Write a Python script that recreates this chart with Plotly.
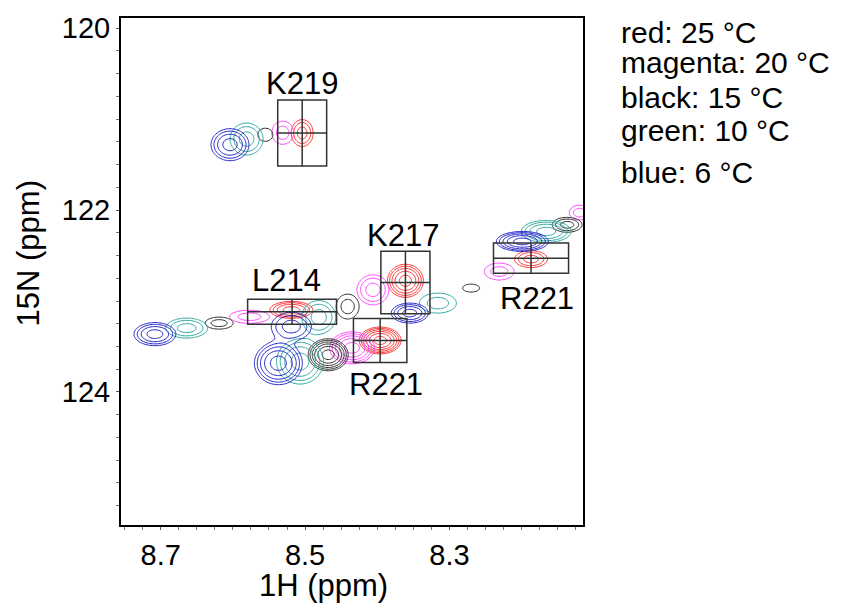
import numpy as np
import plotly.graph_objects as go

# ---------------- data ----------------
# Peaks per temperature: 1H shift (ppm), 15N shift (ppm), half-width 1H, half-width 15N, contour levels
red_h = [8.504, 8.519, 8.361, 8.396, 8.187]
red_n = [121.153, 123.097, 122.778, 123.434, 122.539]
red_wh = [0.0152, 0.0297, 0.0249, 0.0290, 0.0228]
red_wn = [0.148, 0.093, 0.182, 0.148, 0.093]
red_lv = [3, 4, 5, 6, 3]

magenta_h = [8.531, 8.577, 8.406, 8.435, 8.231, 8.120]
magenta_n = [121.150, 123.173, 122.877, 123.515, 122.676, 122.028]
magenta_wh = [0.0152, 0.0277, 0.0221, 0.0310, 0.0207, 0.0140]
magenta_wn = [0.127, 0.072, 0.165, 0.176, 0.093, 0.082]
magenta_lv = [2, 2, 3, 5, 2, 2]

black_h = [8.555, 8.619, 8.441, 8.468, 8.270, 8.137]
black_n = [121.172, 123.243, 123.061, 123.591, 122.858, 122.162]
black_wh = [0.0104, 0.0194, 0.0159, 0.0277, 0.0118, 0.0207]
black_wn = [0.072, 0.066, 0.137, 0.176, 0.044, 0.082]
black_lv = [1, 2, 2, 6, 1, 3]

green_h = [8.581, 8.664, 8.481, 8.507, 8.316, 8.166]
green_n = [121.219, 123.298, 123.177, 123.666, 123.023, 122.235]
green_wh = [0.0228, 0.0290, 0.0235, 0.0325, 0.0256, 0.0346]
green_wn = [0.176, 0.110, 0.182, 0.247, 0.110, 0.121]
green_lv = [3, 3, 3, 4, 2, 4]

blue_h = [8.604, 8.708, 8.519, 8.537, 8.355, 8.199]
blue_n = [121.281, 123.364, 123.280, 123.684, 123.133, 122.345]
blue_wh = [0.0263, 0.0290, 0.0277, 0.0332, 0.0256, 0.0360]
blue_wn = [0.176, 0.127, 0.154, 0.236, 0.110, 0.110]
blue_lv = [4, 4, 3, 5, 4, 5]

temp_labels = ["red: 25 °C", "magenta: 20 °C", "black: 15 °C", "green: 10 °C", "blue: 6 °C"]

# Assignment boxes
assign_label = ["K219", "L214", "K217", "R221", "R221"]
assign_h = [8.504, 8.518, 8.361, 8.396, 8.187]
assign_n = [121.153, 123.118, 122.797, 123.434, 122.529]
box_dh = [0.0339, 0.0616, 0.0340, 0.0370, 0.0520]
box_dn = [0.363, 0.137, 0.343, 0.242, 0.167]

x_ticks = [8.7, 8.5, 8.3]
y_ticks = [120, 122, 124]

# ---------------- styles ----------------
colors = ["#ff2a2a", "#ff44ff", "#2a2a2a", "#2aa8a0", "#2020c8"]
label_side = ["above", "above", "above", "below", "below"]
label_dx = [0, -6, -2, 6, 6]
label_dy = [17, 19, 16, 22, 25]
FONT = "Liberation Sans, Arial, sans-serif"

W, H = 848, 606
ML, MR, MT, MB = 121, 264.5, 18.3, 81
PW, PH = W - ML - MR, H - MT - MB


def px_to_paper(px, py):
    return (px - ML) / PW, 1 - (py - MT) / PH


series = [
    (red_h, red_n, red_wh, red_wn, red_lv),
    (magenta_h, magenta_n, magenta_wh, magenta_wn, magenta_lv),
    (black_h, black_n, black_wh, black_wn, black_lv),
    (green_h, green_n, green_wh, green_wn, green_lv),
    (blue_h, blue_n, blue_wh, blue_wn, blue_lv),
]

gx = np.linspace(8.06, 8.80, 420)
gy = np.linspace(120.5, 124.3, 420)
GX, GY = np.meshgrid(gx, gy)
m = 1.7
lnm = np.log(m)

fig = go.Figure()
for (hs, ns, whs, wns, lvs), col in zip(series, colors):
    s = np.zeros_like(GX)
    for h, n, wh, wn, lv in zip(hs, ns, whs, wns, lvs):
        k = np.sqrt(2 * (lv - 0.5) * lnm)
        sx, sy = wh / k, wn / k
        amp = m ** (lv - 0.5)
        s += amp * np.exp(-0.5 * (((GX - h) / sx) ** 2 + ((GY - n) / sy) ** 2))
    z = np.maximum(np.log(s + 1e-30) / lnm, -5).astype(np.float32)
    fig.add_trace(go.Contour(
        x=gx, y=gy, z=z,
        contours=dict(coloring="lines", start=0, end=10, size=1, showlabels=False),
        colorscale=[[0, col], [1, col]],
        showscale=False, line=dict(width=1), hoverinfo="skip",
    ))

# boxes with crosshairs
for lab, h, n, dh, dn, side, dx, dy in zip(assign_label, assign_h, assign_n, box_dh, box_dn,
                                            label_side, label_dx, label_dy):
    lc = dict(color="#333333", width=1.5)
    fig.add_shape(type="rect", x0=h - dh, x1=h + dh, y0=n - dn, y1=n + dn, line=lc)
    fig.add_shape(type="line", x0=h, x1=h, y0=n - dn, y1=n + dn, line=lc)
    fig.add_shape(type="line", x0=h - dh, x1=h + dh, y0=n, y1=n, line=lc)
    if side == "above":
        ya, ys = n - dn, dy
    else:
        ya, ys = n + dn, -dy
    fig.add_annotation(x=h, y=ya, text=lab, showarrow=False, xanchor="center", yanchor="middle",
                       xshift=dx, yshift=ys, font=dict(family=FONT, size=31, color="black"))

# temperature key
key_y = [32.3, 62.3, 97.3, 130.7, 172.3]
for t, py in zip(temp_labels, key_y):
    ax, ay = px_to_paper(620, py)
    fig.add_annotation(xref="paper", yref="paper", x=ax, y=ay, text=t, showarrow=False,
                       xanchor="left", yanchor="middle", font=dict(family=FONT, size=30, color="black"))

# axis titles
tx, ty = px_to_paper(324, 585)
fig.add_annotation(xref="paper", yref="paper", x=tx, y=ty, text="1H (ppm)", showarrow=False,
                   xanchor="center", yanchor="middle", font=dict(family=FONT, size=31, color="black"))
tx, ty = px_to_paper(28.5, 254)
fig.add_annotation(xref="paper", yref="paper", x=tx, y=ty, text="15N (ppm)", showarrow=False,
                   textangle=-90, xanchor="center", yanchor="middle",
                   font=dict(family=FONT, size=31, color="black"))

axis_common = dict(showline=True, linecolor="black", linewidth=2, mirror=True, showgrid=False,
                   zeroline=False, ticks="outside", ticklen=3, tickcolor="#555555", tickwidth=1,
                   automargin=False, tickfont=dict(family=FONT, size=29, color="black"))
fig.update_xaxes(range=[8.755, 8.115], tickvals=x_ticks, ticktext=[f"{v:.1f}" for v in x_ticks],
                 minor=dict(dtick=0.025, tick0=8.3, ticks="outside", ticklen=3, tickcolor="#777777"),
                 **axis_common)
fig.update_yaxes(range=[125.463, 119.888], tickvals=y_ticks, ticktext=[str(v) for v in y_ticks],
                 minor=dict(dtick=0.25, tick0=120, ticks="outside", ticklen=3, tickcolor="#777777"),
                 **axis_common)
fig.update_layout(width=W, height=H, margin=dict(l=ML, r=MR, t=MT, b=MB, pad=0),
                  paper_bgcolor="white", plot_bgcolor="white", showlegend=False,
                  font=dict(family=FONT))
fig.write_html("out.html", config={"displayModeBar": False},
               post_script="document.body.style.margin='0';")
